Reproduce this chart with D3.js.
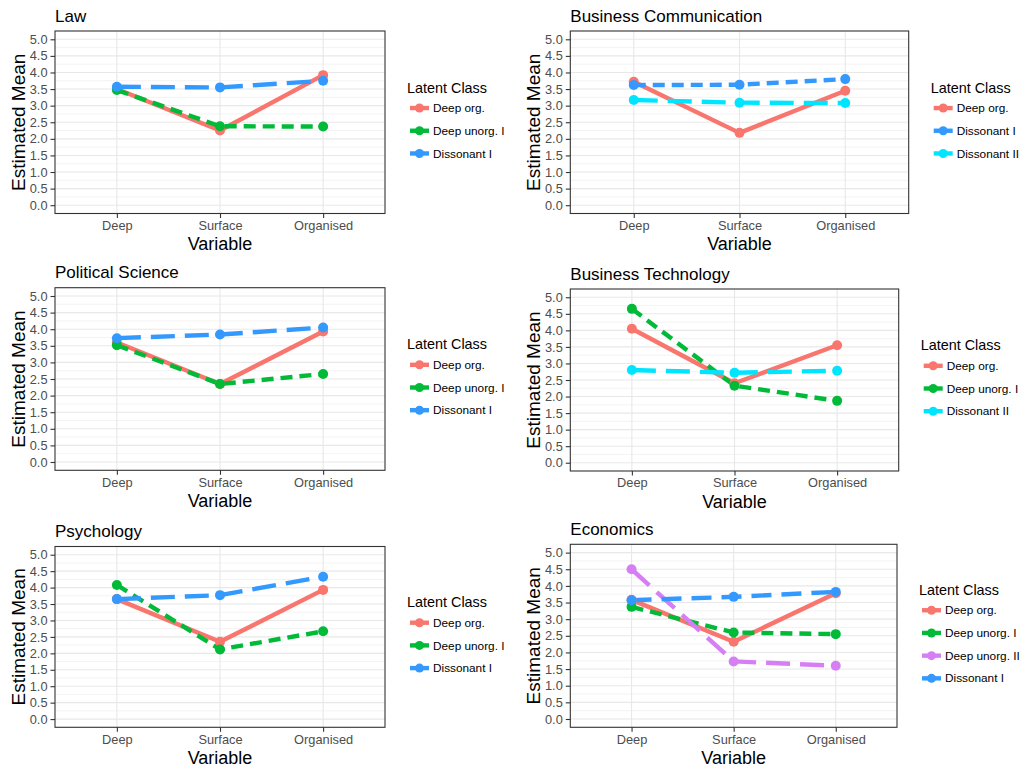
<!DOCTYPE html>
<html>
<head>
<meta charset="utf-8">
<script src="https://cdn.jsdelivr.net/npm/d3@7"></script>
<style>
  html, body { margin: 0; padding: 0; background: #fff; }
  svg { display: block; font-family: "Liberation Sans", Arial, sans-serif; }
</style>
</head>
<body>
<svg id="chart" width="1023" height="767"></svg>
<script>
// ---------------- DATA ----------------
const variables = ["Deep", "Surface", "Organised"];
const yTicks = [0, 0.5, 1, 1.5, 2, 2.5, 3, 3.5, 4, 4.5, 5];
const panelTitles = ["Law", "Business Communication", "Political Science",
                     "Business Technology", "Psychology", "Economics"];
const legendTitle = "Latent Class";
const xAxisTitle = "Variable";
const yAxisTitle = "Estimated Mean";

const lawClasses = ["Deep org.", "Deep unorg. I", "Dissonant I"];
const lawValues = [[3.50, 2.25, 3.92], [3.47, 2.38, 2.37], [3.57, 3.55, 3.75]];

const busCommClasses = ["Deep org.", "Dissonant I", "Dissonant II"];
const busCommValues = [[3.72, 2.18, 3.45], [3.62, 3.63, 3.80], [3.17, 3.09, 3.08]];

const polSciClasses = ["Deep org.", "Deep unorg. I", "Dissonant I"];
const polSciValues = [[3.60, 2.35, 3.93], [3.52, 2.35, 2.65], [3.73, 3.84, 4.05]];

const busTechClasses = ["Deep org.", "Deep unorg. I", "Dissonant II"];
const busTechValues = [[4.05, 2.40, 3.55], [4.65, 2.33, 1.87], [2.80, 2.72, 2.78]];

const psychClasses = ["Deep org.", "Deep unorg. I", "Dissonant I"];
const psychValues = [[3.65, 2.35, 3.93], [4.08, 2.12, 2.67], [3.65, 3.77, 4.33]];

const econClasses = ["Deep org.", "Deep unorg. I", "Deep unorg. II", "Dissonant I"];
const econValues = [[3.58, 2.32, 3.78], [3.37, 2.60, 2.55], [4.50, 1.73, 1.60], [3.57, 3.67, 3.82]];

const panelClasses = [lawClasses, busCommClasses, polSciClasses, busTechClasses, psychClasses, econClasses];
const panelValues = [lawValues, busCommValues, polSciValues, busTechValues, psychValues, econValues];

// ---------------- STYLE / LAYOUT ----------------
const classColors = {
  "Deep org.": "#F8766D",
  "Deep unorg. I": "#00BA38",
  "Deep unorg. II": "#D67FF5",
  "Dissonant I": "#3399FF",
  "Dissonant II": "#00E5FF"
};
const dashByLevel = [null, "12 7", "24 10", "20 10"];

const boxes = [
  {l: 55,    r: 385,   t: 31,    b: 213.5},
  {l: 570.3, r: 908.7, t: 31,    b: 213.5},
  {l: 55,    r: 385,   t: 287.7, b: 470.3},
  {l: 570.3, r: 898.7, t: 289,   b: 471},
  {l: 55,    r: 385,   t: 546.5, b: 727.3},
  {l: 570.3, r: 897,   t: 544.3, b: 727.3}
];

const LW = 4.4, PR = 5;
const svg = d3.select("#chart");

panelTitles.forEach((title, pi) => {
  const bx = boxes[pi];
  const classes = panelClasses[pi];
  const values = panelValues[pi];
  const g = svg.append("g");

  const x = d3.scalePoint().domain(variables).range([bx.l, bx.r]).padding(0.6);
  const y = d3.scaleLinear().domain([-0.25, 5.25]).range([bx.b, bx.t]);

  g.append("rect").attr("x", bx.l).attr("y", bx.t)
    .attr("width", bx.r - bx.l).attr("height", bx.b - bx.t).attr("fill", "#fff");

  const minor = d3.range(0.25, 5.0, 0.5);
  g.selectAll(".minor").data(minor).join("line")
    .attr("x1", bx.l).attr("x2", bx.r)
    .attr("y1", d => y(d)).attr("y2", d => y(d))
    .attr("stroke", "#F0F0F0").attr("stroke-width", 0.8);
  g.selectAll(".majorY").data(yTicks).join("line")
    .attr("x1", bx.l).attr("x2", bx.r)
    .attr("y1", d => y(d)).attr("y2", d => y(d))
    .attr("stroke", "#E8E8E8").attr("stroke-width", 1.1);
  g.selectAll(".majorX").data(variables).join("line")
    .attr("x1", d => x(d)).attr("x2", d => x(d))
    .attr("y1", bx.t).attr("y2", bx.b)
    .attr("stroke", "#E8E8E8").attr("stroke-width", 1.1);

  const line = d3.line().x((d, i) => x(variables[i])).y(d => y(d));
  classes.forEach((c, ci) => {
    g.append("path").datum(values[ci])
      .attr("d", line)
      .attr("fill", "none")
      .attr("stroke", classColors[c])
      .attr("stroke-width", LW)
      .attr("stroke-dasharray", dashByLevel[ci])
      .attr("stroke-linejoin", "round");
  });
  classes.forEach((c, ci) => {
    g.selectAll(null).data(values[ci]).join("circle")
      .attr("cx", (d, i) => x(variables[i]))
      .attr("cy", d => y(d))
      .attr("r", PR)
      .attr("fill", classColors[c]);
  });

  g.append("rect").attr("x", bx.l).attr("y", bx.t)
    .attr("width", bx.r - bx.l).attr("height", bx.b - bx.t)
    .attr("fill", "none").attr("stroke", "#333").attr("stroke-width", 1.1);

  const ya = g.append("g").attr("transform", `translate(${bx.l},0)`)
    .call(d3.axisLeft(y).tickValues(yTicks).tickFormat(d3.format(".1f")).tickSize(4.5).tickPadding(3));
  const xa = g.append("g").attr("transform", `translate(0,${bx.b})`)
    .call(d3.axisBottom(x).tickSize(4.5).tickPadding(2.8));
  [ya, xa].forEach(a => {
    a.select(".domain").remove();
    a.selectAll(".tick line").attr("stroke", "#333").attr("stroke-width", 1.1);
    a.selectAll(".tick text").attr("fill", "#4D4D4D").style("font-size", "12.8px");
  });

  g.append("text").attr("x", bx.l).attr("y", bx.t - 9.5)
    .style("font-size", "17px").attr("fill", "#000").text(title);
  g.append("text").attr("x", (bx.l + bx.r) / 2).attr("y", bx.b + 36.7)
    .attr("text-anchor", "middle").style("font-size", "18px").attr("fill", "#000").text(xAxisTitle);
  g.append("text")
    .attr("transform", `translate(${bx.l - 30},${(bx.t + bx.b) / 2}) rotate(-90)`)
    .attr("text-anchor", "middle").style("font-size", "19px").attr("fill", "#000").text(yAxisTitle);

  const mid = (bx.t + bx.b) / 2;
  const n = classes.length;
  const first = mid - (n - 1) / 2 * 22.7 + 8.5;
  const lx = bx.r + 22;
  g.append("text").attr("x", lx).attr("y", first - 15.5)
    .style("font-size", "14.4px").attr("fill", "#000").text(legendTitle);
  classes.forEach((c, ci) => {
    const yy = first + ci * 22.7;
    g.append("line").attr("x1", lx + 3).attr("x2", lx + 22).attr("y1", yy).attr("y2", yy)
      .attr("stroke", classColors[c]).attr("stroke-width", LW);
    g.append("circle").attr("cx", lx + 12.5).attr("cy", yy).attr("r", PR - 0.5).attr("fill", classColors[c]);
    g.append("text").attr("x", lx + 26).attr("y", yy).attr("dy", "0.35em")
      .style("font-size", "11.8px").attr("fill", "#000").text(c);
  });
});
</script>
</body>
</html>
